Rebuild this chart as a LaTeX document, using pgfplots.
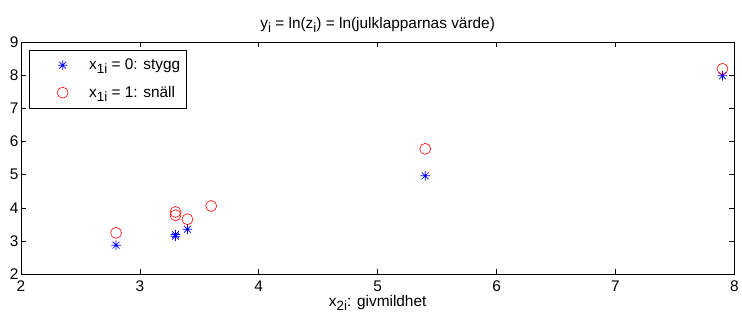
\documentclass[border=0pt]{standalone}
\usepackage{fontspec}
\setmainfont{Liberation Sans}
\usepackage{pgfplots}
\pgfplotsset{compat=1.18}
\pgfdeclareplotmark{mstar}{%
  \pgfpathmoveto{\pgfqpoint{-\pgfplotmarksize}{0pt}}\pgfpathlineto{\pgfqpoint{\pgfplotmarksize}{0pt}}%
  \pgfpathmoveto{\pgfqpoint{0pt}{-\pgfplotmarksize}}\pgfpathlineto{\pgfqpoint{0pt}{\pgfplotmarksize}}%
  \pgfpathmoveto{\pgfqpoint{-0.7071\pgfplotmarksize}{-0.7071\pgfplotmarksize}}\pgfpathlineto{\pgfqpoint{0.7071\pgfplotmarksize}{0.7071\pgfplotmarksize}}%
  \pgfpathmoveto{\pgfqpoint{-0.7071\pgfplotmarksize}{0.7071\pgfplotmarksize}}\pgfpathlineto{\pgfqpoint{0.7071\pgfplotmarksize}{-0.7071\pgfplotmarksize}}%
  \pgfusepathqstroke}
\newcommand\sub[1]{\raisebox{-3.5bp}{\fontsize{13.5}{13.5}\selectfont #1}}
\newcommand\fs{\fontsize{15.5}{18}\selectfont}
\pgfplotsset{legmark/.style={legend image code/.code={\path[draw=none,fill=none] (0bp,-1bp) rectangle (54bp,1bp);\draw[##1] plot coordinates {(29.5bp,0bp)};}}}
\begin{document}
\begin{tikzpicture}
\begin{axis}[
  scale only axis,
  width=715bp, height=233bp,
  xmin=2, xmax=8, ymin=2, ymax=9,
  xtick={2,3,...,8}, ytick={2,3,...,9},
  tick align=inside,
  major tick length=5bp,
  axis line style={line width=0.6bp},
  every tick/.style={black,line width=0.6bp},
  /pgf/number format/assume math mode=true,
  tick label style={font=\fs},
  xticklabel style={yshift=-3bp},
  yticklabel style={xshift=1bp},
  label style={font=\fs},
  title style={font=\fs, yshift=0bp},
  title={y\sub{i} = ln(z\sub{i}) = ln(julklapparnas värde)},
  xlabel={x\sub{2i}: givmildhet},
  xlabel style={yshift=3bp},
  legend cell align=left,
  legend style={font=\fs, at={(axis description cs:0,1)}, anchor=north west,
    xshift=8bp, yshift=-8bp, line width=0.6bp, row sep=11bp,
    inner xsep=4bp, inner ysep=7bp},
]
\addplot[only marks, mark=mstar, mark size=4.8bp, blue, line width=0.7bp, legmark] coordinates {
  (2.8,2.88) (3.3,3.15) (3.3,3.2) (3.4,3.36) (5.4,4.97) (7.9,7.98)};
\addlegendentry{x\sub{1i} = 0: stygg}
\addplot[only marks, mark=o, mark size=5.5bp, red, line width=0.6bp, legmark] coordinates {
  (2.8,3.25) (3.3,3.88) (3.3,3.78) (3.4,3.66) (3.6,4.06) (5.4,5.78) (7.9,8.19)};
\addlegendentry{x\sub{1i} = 1: snäll}
\end{axis}
\draw[draw=none] (current axis.south west) ++(-21bp,-46bp) rectangle (current axis.north east);
\draw[draw=none] (current axis.north east) ++(6bp,42bp) rectangle (current axis.south west);
\end{tikzpicture}
\end{document}
